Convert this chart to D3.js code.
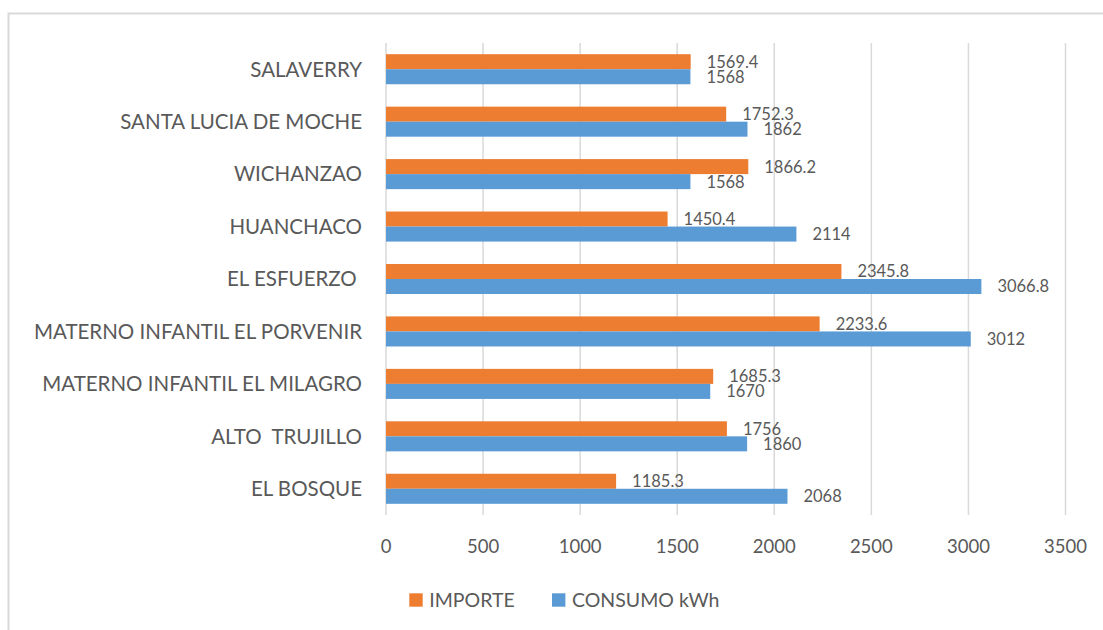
<!DOCTYPE html>
<html>
<head>
<meta charset="utf-8">
<script src="https://cdn.jsdelivr.net/npm/d3@7"></script>
<style>
  html, body { margin: 0; padding: 0; background: #fff; }
  svg { display: block; }
  text { font-family: Lato, "Open Sans", sans-serif; fill: #595959; }
</style>
</head>
<body>
<svg id="chart" width="1103" height="630"></svg>
<script>
const categories = ["SALAVERRY", "SANTA LUCIA DE MOCHE", "WICHANZAO", "HUANCHACO", "EL ESFUERZO ",
  "MATERNO INFANTIL EL PORVENIR", "MATERNO INFANTIL EL MILAGRO", "ALTO  TRUJILLO", "EL BOSQUE"];
const importe = [1569.4, 1752.3, 1866.2, 1450.4, 2345.8, 2233.6, 1685.3, 1756, 1185.3];
const consumo = [1568, 1862, 1568, 2114, 3066.8, 3012, 1670, 1860, 2068];
const seriesNames = ["IMPORTE", "CONSUMO kWh"];
const seriesColors = ["#ED7D31", "#5B9BD5"];
const xTicks = [0, 500, 1000, 1500, 2000, 2500, 3000, 3500];

const svg = d3.select("#chart");

// outer border
svg.append("rect").attr("x", 8.5).attr("y", 13.5).attr("width", 1110).attr("height", 640)
  .attr("fill", "none").attr("stroke", "#d9d9d9").attr("stroke-width", 2);

const pLeft = 386, pRight = 1065.5, pTop = 43, pBottom = 515;
const x = d3.scaleLinear().domain([0, 3500]).range([pLeft, pRight]);
const y = d3.scaleBand().domain(categories).range([pTop, pBottom]).paddingInner(0.427).paddingOuter(0.2135);
const sub = d3.scaleBand().domain([0, 1]).range([0, y.bandwidth()]);

// gridlines
svg.append("g").selectAll("line").data(xTicks).join("line")
  .attr("x1", d => x(d)).attr("x2", d => x(d))
  .attr("y1", pTop).attr("y2", pBottom)
  .attr("stroke", "#d9d9d9").attr("stroke-width", 1.5);

// tick labels
svg.append("g").selectAll("text").data(xTicks).join("text")
  .attr("x", d => x(d)).attr("y", 553)
  .attr("text-anchor", "middle").attr("font-size", 18.5)
  .text(d => d);

// category labels
svg.append("g").selectAll("text").data(categories).join("text")
  .attr("x", 362).attr("y", d => y(d) + y.bandwidth() / 2)
  .attr("dy", "0.36em").attr("text-anchor", "end").attr("font-size", 20.5)
  .style("white-space", "pre")
  .text(d => d);

const rows = categories.map((c, i) => ({ c, vals: [importe[i], consumo[i]] }));
const g = svg.append("g");
rows.forEach(r => {
  r.vals.forEach((v, k) => {
    const y0 = y(r.c) + sub(k);
    g.append("rect").attr("x", x(0)).attr("y", y0)
      .attr("width", x(v) - x(0)).attr("height", sub.bandwidth())
      .attr("fill", seriesColors[k]);
    g.append("text").attr("x", x(v) + 16).attr("y", y0 + sub.bandwidth() / 2)
      .attr("dy", "0.36em").attr("font-size", 16.5)
      .text(v);
  });
});

// legend
const legX = [409.3, 552];
seriesNames.forEach((n, k) => {
  svg.append("rect").attr("x", legX[k]).attr("y", 593.3).attr("width", 13.4).attr("height", 13.4)
    .attr("fill", seriesColors[k]);
  svg.append("text").attr("x", legX[k] + 20).attr("y", 606.7).attr("font-size", 19.5).text(n);
});
</script>
</body>
</html>
